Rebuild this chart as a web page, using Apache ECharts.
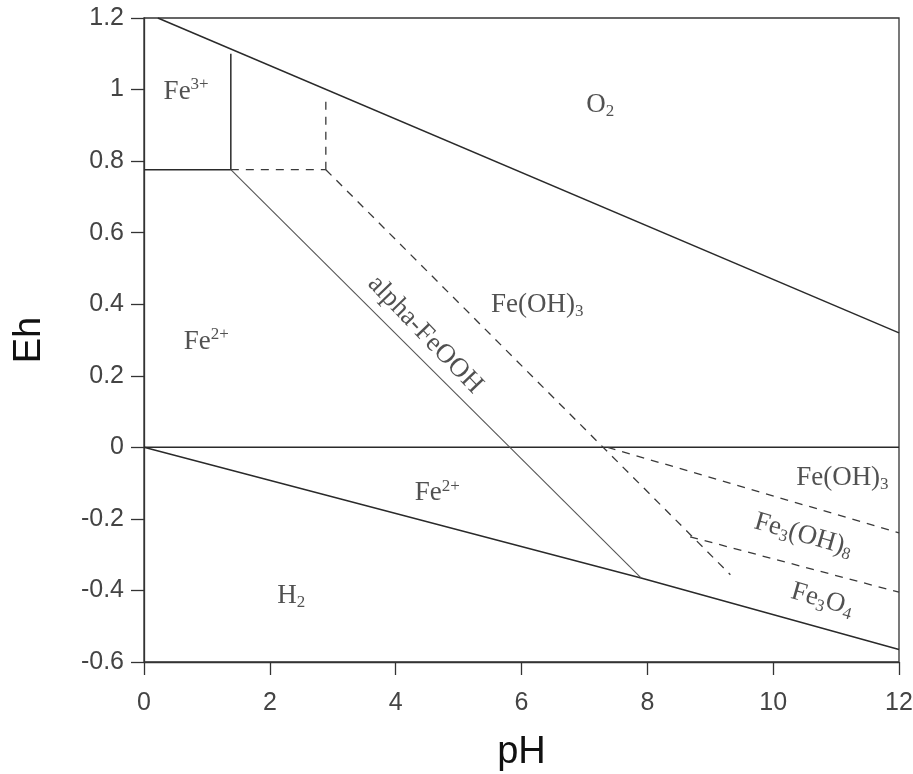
<!DOCTYPE html>
<html>
<head>
<meta charset="utf-8">
<title>Eh-pH diagram, Fe-H2O</title>
<script src="https://cdn.jsdelivr.net/npm/echarts@6/dist/echarts.min.js"></script>
<style>
  html, body { margin: 0; padding: 0; background: #fff; }
  #chart { width: 913px; height: 774px; }
</style>
</head>
<body>
<div id="chart"></div>
<script>
// Stability boundaries, each as [pH, Eh] vertices
const o2Boundary      = [[0.22, 1.2], [12, 0.32]];
const h2Boundary      = [[0, 0], [7.9, -0.365], [12, -0.565]];
const zeroLine        = [[0, 0], [12, 0]];
const fe3Fe2          = [[0, 0.776], [1.38, 0.776]];
const fe3Goethite     = [[1.38, 0.776], [1.38, 1.1]];
const goethiteFe2     = [[1.38, 0.776], [7.9, -0.365]];
const fe3FeOH3Horiz   = [[1.38, 0.776], [2.89, 0.776]];
const fe3FeOH3Vert    = [[2.89, 0.776], [2.89, 0.975]];
const feOH3Fe2        = [[2.89, 0.776], [9.32, -0.356]];
const feOH3Lower      = [[7.37, 0], [12, -0.239]];
const fe3OH8Upper     = [[8.68, -0.25], [12, -0.405]];

// Field labels: [pH, Eh, rich text, rotation in degrees]
const fieldLabels = [
  [0.67, 0.994, 'Fe{sup|3+}', 0],
  [7.25, 0.957, 'O{sub|2}', 0],
  [6.25, 0.399, 'Fe(OH){sub|3}', 0],
  [0.99, 0.295, 'Fe{sup|2+}', 0],
  [4.47, 0.315, 'alpha-FeOOH', -46],
  [4.66, -0.128, 'Fe{sup|2+}', 0],
  [2.34, -0.415, 'H{sub|2}', 0],
  [11.1, -0.085, 'Fe(OH){sub|3}', 0],
  [10.48, -0.245, 'Fe{sub|3}(OH){sub|8}', -16],
  [10.78, -0.426, 'Fe{sub|3}O{sub|4}', -16]
];

// Axis settings
const xMin = 0, xMax = 12, xStep = 2;
const yMin = -0.6, yMax = 1.2, yStep = 0.2;

const solid = { color: '#2a2a2a', width: 1.5, type: 'solid' };
const thin = { color: '#555', width: 1.1, type: 'solid' };
const dashed = { color: '#3a3a3a', width: 1.3, type: [8, 7] };

function boundary(name, data, style) {
  return {
    name: name, type: 'line', data: data, showSymbol: false, symbol: 'none',
    lineStyle: style, silent: true, animation: false, z: 3
  };
}

const serif = '"Liberation Serif", "DejaVu Serif", serif';
const labelColor = '#262626';
const richStyles = {
  sup: { fontSize: 17, fontFamily: serif, color: labelColor, padding: [0, 0, 14, 0] },
  sub: { fontSize: 17, fontFamily: serif, color: labelColor, padding: [14, 0, 0, 0] }
};

const labelSeries = fieldLabels.map(function (f, i) {
  return {
    name: 'label' + i, type: 'scatter', symbolSize: 0, silent: true, animation: false,
    data: [[f[0], f[1]]], z: 4,
    label: {
      show: true, position: 'inside', rotate: f[3],
      formatter: f[2],
      fontFamily: serif, fontSize: 27, color: labelColor,
      rich: richStyles
    }
  };
});

const sans = '"Liberation Sans", Arial, sans-serif';

const chart = echarts.init(document.getElementById('chart'), null, { renderer: 'canvas' });
chart.setOption({
  backgroundColor: '#fff',
  animation: false,
  grid: {
    left: 144, right: 14, top: 18, bottom: 112,
    containLabel: false, outerBoundsMode: 'none',
    show: true, borderColor: '#333', borderWidth: 1.3, backgroundColor: 'transparent'
  },
  xAxis: {
    type: 'value', min: xMin, max: xMax, interval: xStep,
    name: 'pH', nameLocation: 'middle', nameGap: 72,
    nameTextStyle: { fontFamily: sans, fontSize: 38, color: '#111' },
    axisLine: { show: true, onZero: false, lineStyle: { color: '#333', width: 1.3 } },
    axisTick: { show: true, inside: false, length: 13, lineStyle: { color: '#333', width: 1.3 } },
    axisLabel: { margin: 29, fontFamily: sans, fontSize: 25, color: '#444' },
    splitLine: { show: false }
  },
  yAxis: {
    type: 'value', min: yMin, max: yMax, interval: yStep,
    name: 'Eh', nameLocation: 'middle', nameGap: 95, nameRotate: 90,
    nameTextStyle: { fontFamily: sans, fontSize: 38, color: '#111' },
    axisLine: { show: true, onZero: false, lineStyle: { color: '#333', width: 1.3 } },
    axisTick: { show: true, inside: false, length: 13, lineStyle: { color: '#333', width: 1.3 } },
    axisLabel: {
      margin: 20, fontFamily: sans, fontSize: 25, color: '#444',
      formatter: function (v) { return String(+v.toFixed(1)); }
    },
    splitLine: { show: false }
  },
  series: [
    boundary('O2/H2O', o2Boundary, solid),
    boundary('H2O/H2', h2Boundary, solid),
    boundary('Eh 0', zeroLine, solid),
    boundary('Fe3+/Fe2+', fe3Fe2, solid),
    boundary('Fe3+/alpha-FeOOH', fe3Goethite, solid),
    boundary('alpha-FeOOH/Fe2+', goethiteFe2, thin),
    boundary('Fe3+/Fe(OH)3 horizontal', fe3FeOH3Horiz, dashed),
    boundary('Fe3+/Fe(OH)3 vertical', fe3FeOH3Vert, dashed),
    boundary('Fe(OH)3/Fe2+', feOH3Fe2, dashed),
    boundary('Fe(OH)3/Fe3(OH)8', feOH3Lower, dashed),
    boundary('Fe3(OH)8/Fe3O4', fe3OH8Upper, dashed)
  ].concat(labelSeries)
});
</script>
</body>
</html>
